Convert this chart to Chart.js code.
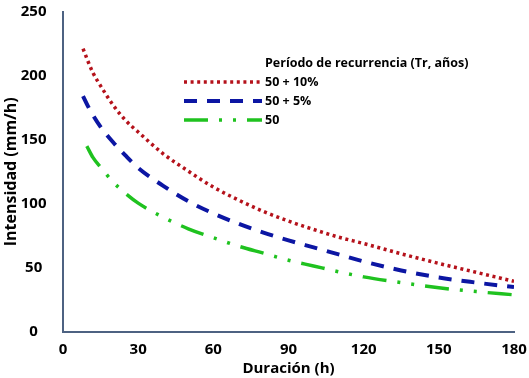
<!DOCTYPE html>
<html>
<head>
<meta charset="utf-8">
<script src="https://cdn.jsdelivr.net/npm/chart.js@4"></script>
<style>
html,body{margin:0;padding:0;background:#fff;}
#wrap{width:529px;height:378px;position:relative;}
</style>
</head>
<body>
<div id="wrap"><canvas id="c" width="529" height="378"></canvas></div>
<script>
// Data
const durations      = [8, 10, 12, 15, 20, 25, 30, 40, 50, 60, 70, 80, 90, 100, 110, 120, 135, 150, 165, 180];
const tr50p10        = [221, 211, 202, 192, 177, 165, 156, 139, 125.5, 113, 103, 94, 86.5, 80, 74, 69, 61, 53.5, 46.5, 39.5];
const tr50p5         = [184, 176, 169, 160, 148, 137.5, 128, 114, 102, 92.5, 84.5, 77.5, 71.5, 66, 60.5, 55, 48, 42.5, 38.5, 35];
const durationsGreen = [9.5, 12, 15, 20, 25, 30, 40, 50, 60, 70, 80, 90, 100, 110, 120, 135, 150, 165, 180];
const tr50           = [145, 136, 128.5, 117, 108, 100.5, 89.5, 80.5, 73.5, 67, 61.5, 56, 51.5, 47, 43, 38.5, 34.5, 31.5, 29];
const seriesLabels = ['50 + 10%', '50 + 5%', '50'];
const legendTitle = 'Período de recurrencia (Tr, años)';
const xTicks = [0, 30, 60, 90, 120, 150, 180];
const yTicks = [0, 50, 100, 150, 200, 250];

const FONT = "'Open Sans', 'DejaVu Sans', sans-serif";
const toPts = (xs, ys) => ys.map((v, i) => ({x: xs[i], y: v}));

const styles = [
  {color: '#b5121b', dash: [3, 3.6], width: 3.5},
  {color: '#0c16a3', dash: [13, 10], width: 4},
  {color: '#1fc21f', dash: [24, 11, 3, 11, 3, 11], width: 3.5}
];
const seriesData = [toPts(durations, tr50p10), toPts(durations, tr50p5), toPts(durationsGreen, tr50)];

const datasets = seriesData.map((d, i) => ({
  label: seriesLabels[i],
  data: d,
  borderColor: styles[i].color,
  backgroundColor: styles[i].color,
  borderWidth: styles[i].width,
  borderDash: styles[i].dash,
  borderCapStyle: 'butt',
  pointRadius: 0,
  cubicInterpolationMode: 'monotone',
  fill: false
}));

const legendPlugin = {
  id: 'customLegend',
  afterDatasetsDraw(chart) {
    const ctx = chart.ctx;
    ctx.save();
    ctx.fillStyle = '#000';
    ctx.font = "bold 12.5px " + FONT;
    ctx.textBaseline = 'middle';
    ctx.textAlign = 'left';
    ctx.fillText(legendTitle, 265, 63);
    const rows = [82, 101, 120];
    seriesLabels.forEach((lab, i) => {
      const s = styles[i];
      ctx.beginPath();
      ctx.strokeStyle = s.color;
      ctx.lineWidth = s.width;
      ctx.lineCap = 'butt';
      ctx.setLineDash(s.dash);
      ctx.moveTo(184, rows[i]);
      ctx.lineTo(262, rows[i]);
      ctx.stroke();
      ctx.setLineDash([]);
      ctx.fillText(lab, 265, rows[i]);
    });
    ctx.restore();
  }
};

new Chart(document.getElementById('c'), {
  type: 'line',
  data: {datasets},
  plugins: [legendPlugin],
  options: {
    responsive: false,
    animation: false,
    layout: {padding: {top: 11, right: 15, left: 0, bottom: 0}},
    plugins: {legend: {display: false}, tooltip: {enabled: false}},
    scales: {
      x: {
        type: 'linear', min: 0, max: 180,
        afterBuildTicks: s => { s.ticks = xTicks.map(v => ({value: v})); },
        afterFit: s => { s.height = 46; },
        grid: {display: false},
        border: {display: true, color: '#4d6282', width: 2},
        ticks: {color: '#000', font: {family: FONT, size: 15, weight: 'bold'}, padding: 1, maxRotation: 0},
        title: {display: true, text: 'Duración (h)', color: '#000', font: {family: FONT, size: 15, weight: 'bold'}, padding: {top: -4, bottom: 0}}
      },
      y: {
        min: 0, max: 250,
        afterBuildTicks: s => { s.ticks = yTicks.map(v => ({value: v})); },
        afterFit: s => { s.width = 63; },
        grid: {display: false},
        border: {display: true, color: '#4d6282', width: 2},
        ticks: {color: '#000', font: {family: FONT, size: 15, weight: 'bold', lineHeight: 0.4}, padding: 8.5, crossAlign: 'center'},
        title: {display: true, text: 'Intensidad (mm/h)', color: '#000', font: {family: FONT, size: 16, weight: 'bold'}, padding: {top: 2, bottom: 0}}
      }
    }
  }
});
</script>
</body>
</html>
